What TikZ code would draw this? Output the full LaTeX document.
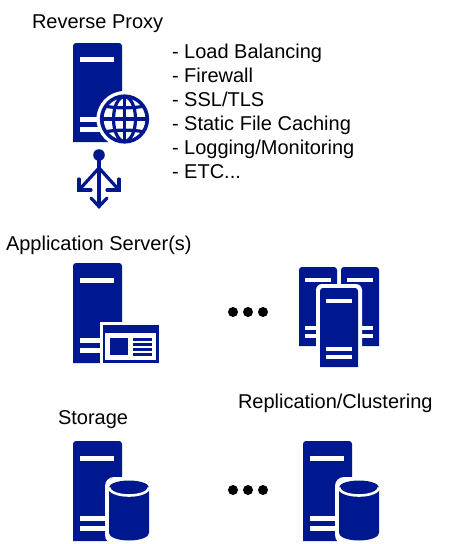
\documentclass[tikz,border=0pt]{standalone}
\usepackage{fontspec}
\setmainfont{Liberation Sans}
\definecolor{iconblue}{HTML}{00188F}
\tikzset{
  lbl/.style={anchor=base west,inner sep=0pt,outer sep=0pt,font=\fontsize{20}{24}\selectfont,text=black},
  ico/.style={fill=iconblue,draw=none},
  bar/.style={fill=white,draw=none},
  halo/.style={fill=white,draw=none},
  dotmark/.style={fill=black,draw=none},
  strokeblue/.style={draw=iconblue,line width=3.2pt,fill=none},
  arrowbarb/.style={draw=iconblue,line width=3.2pt,fill=none,line cap=round,line join=miter}
}
% server tower: left x, top y, width, height (square bottom, rounded top)
\newcommand{\srvicon}[4]{%
  \fill[ico] (#1,#2+#4) -- (#1,#2+3) .. controls (#1,#2+1.3) and (#1+1.3,#2) .. (#1+3,#2) -- (#1+#3-3,#2) .. controls (#1+#3-1.3,#2) and (#1+#3,#2+1.3) .. (#1+#3,#2+3) -- (#1+#3,#2+#4) -- cycle;
  \pgfmathsetmacro{\bx}{#1+0.145*#3}
  \pgfmathsetmacro{\bw}{0.70*#3}
  \fill[bar] (\bx,#2+0.145*#4) rectangle ++(\bw,0.05*#4);
  \fill[bar] (\bx,#2+0.75*#4) rectangle ++(\bw,0.05*#4);
  \fill[bar] (\bx,#2+0.85*#4) rectangle ++(\bw,0.05*#4);
}
\newcommand{\cyl}[1]{%
  \fill[halo,rounded corners=9pt] (#1-24,477) rectangle (#1+24,544);
  \fill[ico] (#1-20,488) -- (#1-20,533) arc[x radius=20,y radius=7.5,start angle=180,end angle=0] -- (#1+20,488) -- cycle;
  \fill[ico] (#1,487.5) ellipse[x radius=20,y radius=7];
  \draw[white,line width=2.6pt] (#1-20,487.5) arc[x radius=20,y radius=8,start angle=180,end angle=0];
}
\begin{document}
\begin{tikzpicture}[x=1pt,y=-1pt]
\useasboundingbox[fill=white] (0,0) rectangle (450,544);

% labels
\node[lbl] (rp) at (32,28) {Reverse Proxy};
\node[lbl] (f1) at (172,58) {- Load Balancing};
\node[lbl] (f2) at (172,82) {- Firewall};
\node[lbl] (f3) at (172,106) {- SSL/TLS};
\node[lbl] (f4) at (172,130) {- Static File Caching};
\node[lbl] (f5) at (172,154) {- Logging/Monitoring};
\node[lbl] (f6) at (172,178) {- ETC...};
\node[lbl] (as) at (6,250) {Application Server(s)};
\node[lbl] (rc) at (238,408) {Replication/Clustering};
\node[lbl] (st) at (58,424) {Storage};

% reverse proxy server + globe
\srvicon{73}{43}{49}{99}
\fill[halo] (124.5,119) circle (28);
\draw[strokeblue,line width=3.6pt] (124.5,119) circle (22.8);
\draw[strokeblue] (124.5,119) ellipse[x radius=11,y radius=22.5];
\draw[strokeblue] (124.5,96.5) -- (124.5,141.5);
\draw[strokeblue] (102,119) -- (147,119);
\draw[strokeblue] (105,106) .. controls (115,108.5) and (134,108.5) .. (144,106);
\draw[strokeblue] (105,132) .. controls (115,129.5) and (134,129.5) .. (144,132);

% fan-out symbol
\coordinate (hub) at (99,155);
\coordinate (split) at (99,168);
\coordinate (tl) at (79,190);
\coordinate (tr) at (119,190);
\coordinate (td) at (99,206.5);
\fill[ico] (hub) circle (5.8);
\draw[arrowbarb] (hub) -- (td);
\draw[arrowbarb] (split) -- (tl);
\draw[arrowbarb] (split) -- (tr);
\draw[arrowbarb] (79,179) -- (tl) -- (91,190);
\draw[arrowbarb] (119,179) -- (tr) -- (107,190);
\draw[arrowbarb] (91,198) -- (td) -- (107,198);

% application server + window
\srvicon{73}{263}{49}{100}
\fill[halo] (100,322) rectangle (162,366);
\fill[ico] (103,325) rectangle (159,363);
\fill[white] (105,333) rectangle (156,360);
\fill[ico] (110,338) rectangle (127.5,355);
\foreach \ly in {338,343,348,353}{\fill[ico] (133,\ly) rectangle (152,\ly+2.6);}

% dots
\foreach \dx in {233,248,263}{\fill[dotmark] (\dx,312) circle (5);}
\foreach \dx in {233,248,263}{\fill[dotmark] (\dx,490) circle (5);}

% cluster
\srvicon{299}{267}{38}{79}
\srvicon{341}{267}{38}{79}
\fill[halo,rounded corners=6pt] (316,369) -- (316,284) -- (362,284) -- (362,369) -- cycle;
\srvicon{320}{288}{38}{79}

% storage
\srvicon{73}{441}{49}{100}
\cyl{129}
\srvicon{303}{441}{49}{100}
\cyl{359}
\end{tikzpicture}
\end{document}
